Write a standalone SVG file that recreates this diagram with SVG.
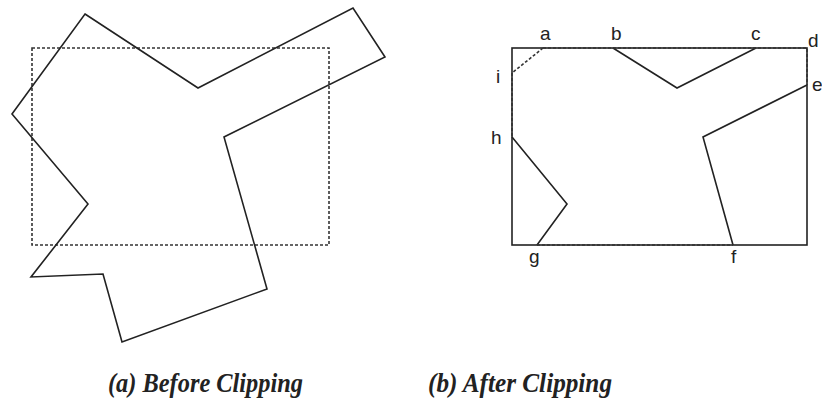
<svg xmlns="http://www.w3.org/2000/svg" width="822" height="400" viewBox="0 0 822 400">
<style>
.poly{fill:none;stroke:#222;stroke-width:1.6;stroke-linejoin:miter}
.dash{fill:none;stroke:#333;stroke-width:1.6;stroke-dasharray:3 2}
.lbl{font-family:"Liberation Sans",Arial,sans-serif;font-size:19px;fill:#222}
.cap{font-family:"Liberation Serif","Times New Roman",serif;font-size:28px;font-weight:bold;font-style:italic;fill:#222}
</style>
<rect width="822" height="400" fill="#fff"/>
<g id="before">
<rect class="dash" x="32" y="48" width="297" height="197"/>
<polygon class="poly" points="85,14 198,88 353,8 385,57 224,137 267,289 122,342 103,274 31,277 88,204 12,114"/>
</g>
<g id="after">
<rect class="poly" x="512" y="48" width="295" height="197"/>
<polyline class="poly" points="613,48 677,88 756,48"/>
<polyline class="poly" points="807,85 703,137 733,245"/>
<polyline class="poly" points="537,245 567,204 512,137"/>
<line class="dash" x1="543" y1="48" x2="512" y2="73"/>
<path class="dash" d="M543,48 H807 V85 M512,73 V137 M537,245 H733"/>
<text class="lbl" x="540" y="40">a</text>
<text class="lbl" x="611" y="40">b</text>
<text class="lbl" x="751" y="40">c</text>
<text class="lbl" x="808" y="47">d</text>
<text class="lbl" x="812" y="91">e</text>
<text class="lbl" x="496" y="83">i</text>
<text class="lbl" x="491" y="144">h</text>
<text class="lbl" x="529" y="263">g</text>
<text class="lbl" x="731" y="263">f</text>
</g>
<g id="captions">
<text class="cap" x="108" y="392" textLength="195" lengthAdjust="spacingAndGlyphs">(a) Before Clipping</text>
<text class="cap" x="428" y="392" textLength="184" lengthAdjust="spacingAndGlyphs">(b) After Clipping</text>
</g>
</svg>
